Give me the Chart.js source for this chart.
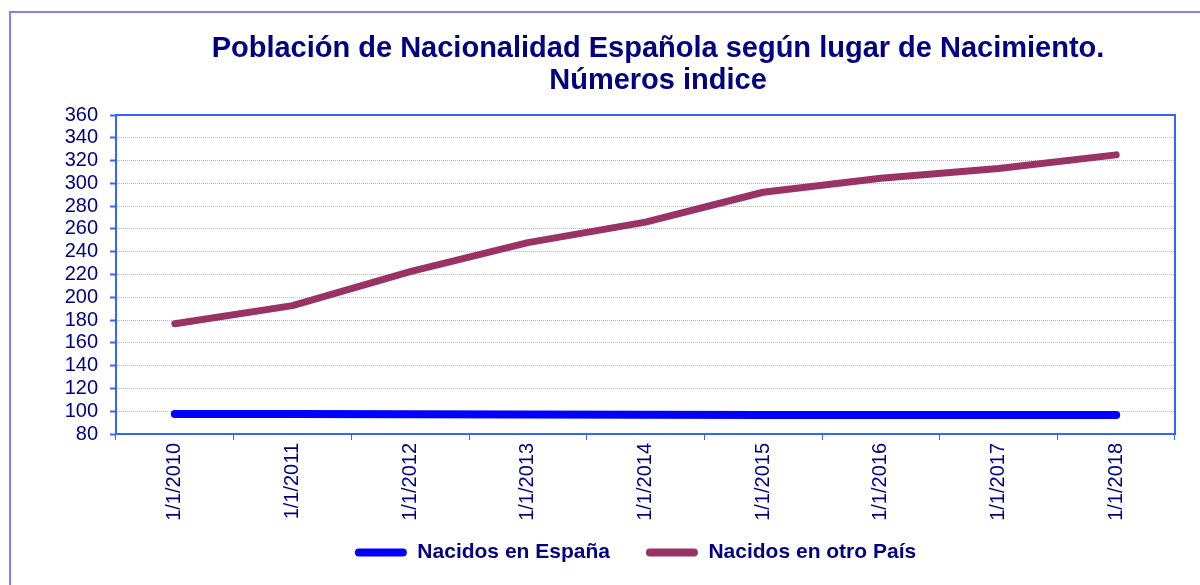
<!DOCTYPE html>
<html>
<head>
<meta charset="utf-8">
<script src="https://cdn.jsdelivr.net/npm/chart.js@4.4.0/dist/chart.umd.min.js"></script>
<style>
  html, body { margin: 0; padding: 0; background: #fff; }
  #wrap { width: 1200px; height: 585px; position: relative; }
</style>
</head>
<body>
<div id="wrap"><canvas id="chart"></canvas></div>
<script>
// Chart data
const years = ["1/1/2010", "1/1/2011", "1/1/2012", "1/1/2013", "1/1/2014", "1/1/2015", "1/1/2016", "1/1/2017", "1/1/2018"]
const nacidosEspana = [97.6, 97.5, 97.4, 97.2, 96.8, 96.6, 96.6, 96.6, 96.6]
const nacidosOtroPais = [176.8, 192.7, 222.5, 248.0, 266.0, 292.2, 304.5, 313.0, 325.0]
const titleLines = ["Población de Nacionalidad Española según lugar de Nacimiento.", "Números indice"]

const navy = "#000080"
const axisBlue = "#3366ff"
const font = "'Liberation Sans', Arial, sans-serif"

// Outer frame, plot frame and two-line title
const framePlugin = {
  id: "frame",
  afterLayout(chart) {
    // let the rotated x labels run past the box the legend takes
    const x = chart.scales.x
    x.bottom = x.top + 95
    // nudge the legend a little left and down
    const lg = chart.legend
    lg.left -= 10
    lg.right -= 10
    lg.top += 2
    lg.bottom += 2
  },
  beforeDraw(chart) {
    const ctx = chart.ctx
    ctx.save()
    ctx.strokeStyle = "#8080ff"
    ctx.lineWidth = 2
    ctx.strokeRect(10, 12, 1200, 600)
    ctx.restore()
  },
  afterDraw(chart) {
    const ctx = chart.ctx
    const a = chart.chartArea
    ctx.save()
    ctx.strokeStyle = axisBlue
    ctx.lineWidth = 2
    ctx.beginPath()
    ctx.moveTo(a.left, a.top)
    ctx.lineTo(a.right, a.top)
    ctx.lineTo(a.right, a.bottom)
    ctx.stroke()

    ctx.fillStyle = navy
    ctx.font = "bold 29px " + font
    ctx.textAlign = "center"
    ctx.textBaseline = "alphabetic"
    ctx.fillText(titleLines[0], 658, 57)
    ctx.fillText(titleLines[1], 658, 89)
    ctx.restore()
  },
}

const ctx = document.getElementById("chart").getContext("2d")
new Chart(ctx, {
  type: "line",
  data: {
    labels: years,
    datasets: [
      {
        label: "Nacidos en España",
        data: nacidosEspana,
        borderColor: "#0000ff",
        backgroundColor: "#0000ff",
        borderWidth: 8,
        borderCapStyle: "round",
        borderJoinStyle: "round",
        pointRadius: 0,
        tension: 0,
      },
      {
        label: "Nacidos en otro País",
        data: nacidosOtroPais,
        borderColor: "#993366",
        backgroundColor: "#993366",
        borderWidth: 7,
        borderCapStyle: "round",
        borderJoinStyle: "round",
        pointRadius: 0,
        tension: 0,
      },
    ],
  },
  options: {
    responsive: true,
    maintainAspectRatio: false,
    animation: false,
    layout: {
      padding: { left: 0, right: 25, top: 115, bottom: 14 },
    },
    plugins: {
      title: { display: false },
      tooltip: { enabled: false },
      legend: {
        position: "bottom",
        fullSize: false,
        labels: {
          color: navy,
          font: { family: font, size: 21, weight: "bold" },
          boxWidth: 52,
          boxHeight: 8,
          padding: 36,
          generateLabels(chart) {
            return chart.data.datasets.map((ds, i) => ({
              text: ds.label,
              fillStyle: ds.borderColor,
              strokeStyle: ds.borderColor,
              lineWidth: 0,
              borderRadius: 4,
              fontColor: navy,
              datasetIndex: i,
              hidden: false,
            }))
          },
        },
      },
    },
    scales: {
      x: {
        offset: true,
        afterFit(scale) {
          scale.height = 70
        },
        grid: {
          offset: true,
          drawOnChartArea: false,
          drawTicks: true,
          tickLength: 6,
          tickColor: axisBlue,
          tickWidth: 1,
        },
        border: { color: axisBlue, width: 2 },
        ticks: {
          color: navy,
          font: { family: font, size: 20 },
          minRotation: 90,
          maxRotation: 90,
          padding: 3,
          autoSkip: false,
        },
      },
      y: {
        min: 80,
        max: 360,
        afterFit(scale) {
          scale.width = 116
        },
        grid: {
          color: "#b8b8b8",
          lineWidth: 1,
          tickLength: 6,
          tickColor: axisBlue,
          tickWidth: 2,
          tickBorderDash: [],
        },
        border: { color: axisBlue, width: 2, dash: [1, 1] },
        ticks: {
          stepSize: 20,
          autoSkip: false,
          color: navy,
          font: { family: font, size: 20 },
          padding: 12,
        },
      },
    },
  },
  plugins: [framePlugin],
})
</script>
</body>
</html>
